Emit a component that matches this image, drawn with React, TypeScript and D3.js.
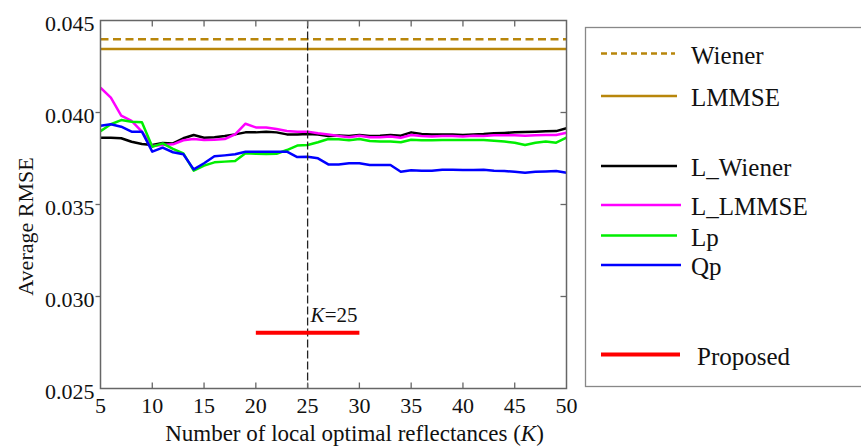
import React, { useEffect, useRef } from "react";
import * as d3 from "d3";

const kValues: number[] = d3.range(5, 51);

const lWiener: number[] = [
  0.03863, 0.03863, 0.0386, 0.03841, 0.03829, 0.03823, 0.03834, 0.03832, 0.0386, 0.03878,
  0.03863, 0.03866, 0.03872, 0.03881, 0.03892, 0.03892, 0.03896, 0.03892, 0.03881, 0.03881,
  0.03883, 0.03881, 0.03872, 0.03875, 0.03872, 0.03878, 0.03872, 0.03874, 0.03878, 0.03874,
  0.03892, 0.03883, 0.03881, 0.03881, 0.03881, 0.03878, 0.03881, 0.03883, 0.03887, 0.03889,
  0.03892, 0.03894, 0.03896, 0.03898, 0.03899, 0.03914,
];

const lLmmse: number[] = [
  0.04135, 0.04081, 0.03983, 0.03954, 0.03896, 0.03818, 0.03823, 0.03827, 0.03849, 0.03856,
  0.03851, 0.03852, 0.03856, 0.03881, 0.03939, 0.03919, 0.03919, 0.0391, 0.03899, 0.03896,
  0.03896, 0.03887, 0.03881, 0.03872, 0.03865, 0.03874, 0.03865, 0.03865, 0.03869, 0.03863,
  0.03878, 0.03872, 0.0387, 0.03872, 0.03872, 0.0387, 0.03874, 0.03872, 0.03876, 0.03876,
  0.03876, 0.03874, 0.03876, 0.03878, 0.03878, 0.0389,
];

const lp: number[] = [
  0.03899, 0.03936, 0.03959, 0.0395, 0.03947, 0.03814, 0.03832, 0.03802, 0.03778, 0.03684,
  0.03711, 0.03729, 0.03733, 0.03736, 0.03778, 0.03776, 0.03775, 0.03776, 0.03796, 0.0382,
  0.03823, 0.03838, 0.03856, 0.03855, 0.03849, 0.03856, 0.03845, 0.03842, 0.03842, 0.03838,
  0.03852, 0.03849, 0.03849, 0.03851, 0.03851, 0.03851, 0.03851, 0.03851, 0.03847, 0.03842,
  0.03836, 0.03823, 0.03836, 0.03842, 0.03836, 0.03863,
];

const qp: number[] = [
  0.03928, 0.03936, 0.03923, 0.03896, 0.03896, 0.03787, 0.03809, 0.03784, 0.03773, 0.03691,
  0.03724, 0.03762, 0.03767, 0.03773, 0.03787, 0.03787, 0.03787, 0.03787, 0.03787, 0.03758,
  0.0376, 0.03751, 0.03718, 0.03718, 0.03724, 0.03724, 0.03715, 0.03715, 0.03715, 0.03678,
  0.03686, 0.03684, 0.03684, 0.03689, 0.03689, 0.03687, 0.03687, 0.03689, 0.03684, 0.03682,
  0.03678, 0.03673, 0.03678, 0.0368, 0.03682, 0.03673,
];

const wienerValue = 0.04398;
const lmmseValue = 0.04345;
const proposedValue = 0.02803;
const proposedRange: number[] = [20, 30];
const markedK = 25;

const xTicks: number[] = [5, 10, 15, 20, 25, 30, 35, 40, 45, 50];
const yTicks: number[] = [0.025, 0.03, 0.035, 0.04, 0.045];

const GOLD = "#b8860b";
const FONT = '"Liberation Serif", "Times New Roman", Times, "DejaVu Serif", serif';

export default function App() {
  const ref = useRef<SVGSVGElement>(null);

  useEffect(() => {
    const svg = d3.select(ref.current);
    svg.selectAll("*").remove();

    const left = 100.5, right = 566.5, top = 20.5, bottom = 388.5;
    const x = d3.scaleLinear().domain([5, 50]).range([left, right]);
    const y = d3.scaleLinear().domain([0.025, 0.045]).range([bottom, top]);

    const g = svg.append("g").style("font-family", FONT);

    svg.append("defs").append("clipPath").attr("id", "plotclip")
      .append("rect").attr("x", left).attr("y", top).attr("width", right - left).attr("height", bottom - top);

    const plot = g.append("g").attr("clip-path", "url(#plotclip)");

    plot.append("line")
      .attr("x1", x(5)).attr("x2", x(50))
      .attr("y1", y(wienerValue)).attr("y2", y(wienerValue))
      .attr("stroke", GOLD).attr("stroke-width", 2.5).attr("stroke-dasharray", "8,4.5");
    plot.append("line")
      .attr("x1", x(5)).attr("x2", x(50))
      .attr("y1", y(lmmseValue)).attr("y2", y(lmmseValue))
      .attr("stroke", GOLD).attr("stroke-width", 2.5);

    const line = d3.line<number>()
      .x((_, i) => x(kValues[i]))
      .y((d) => y(d));

    const series: { data: number[]; color: string }[] = [
      { data: lWiener, color: "#000000" },
      { data: lLmmse, color: "#ff00ff" },
      { data: lp, color: "#00ee00" },
      { data: qp, color: "#0000ff" },
    ];
    series.forEach((s) => {
      plot.append("path")
        .attr("d", line(s.data) as string)
        .attr("fill", "none")
        .attr("stroke", s.color)
        .attr("stroke-width", 2.5)
        .attr("stroke-linejoin", "round");
    });

    plot.append("line")
      .attr("x1", x(markedK)).attr("x2", x(markedK))
      .attr("y1", top).attr("y2", bottom)
      .attr("stroke", "#222").attr("stroke-width", 1.3).attr("stroke-dasharray", "8,3");

    plot.append("line")
      .attr("x1", x(proposedRange[0])).attr("x2", x(proposedRange[1]))
      .attr("y1", y(proposedValue)).attr("y2", y(proposedValue))
      .attr("stroke", "#ff0000").attr("stroke-width", 4);

    const kt = g.append("text")
      .attr("x", x(markedK) + 3).attr("y", y(proposedValue) - 11)
      .style("font-size", "21px").attr("fill", "#111");
    kt.append("tspan").style("font-style", "italic").text("K");
    kt.append("tspan").text("=25");

    const AX = "#666";
    g.append("rect")
      .attr("x", left).attr("y", top).attr("width", right - left).attr("height", bottom - top)
      .attr("fill", "none").attr("stroke", AX).attr("stroke-width", 1.5);

    xTicks.slice(1, -1).forEach((t) => {
      g.append("line").attr("x1", x(t)).attr("x2", x(t)).attr("y1", bottom).attr("y2", bottom - 6)
        .attr("stroke", AX).attr("stroke-width", 1.3);
      g.append("line").attr("x1", x(t)).attr("x2", x(t)).attr("y1", top).attr("y2", top + 6)
        .attr("stroke", AX).attr("stroke-width", 1.3);
    });
    xTicks.forEach((t) => {
      g.append("text").attr("x", x(t)).attr("y", bottom + 24)
        .attr("text-anchor", "middle").style("font-size", "22px")
        .attr("fill", "#111").text(String(t));
    });

    yTicks.slice(1, -1).forEach((t) => {
      g.append("line").attr("x1", left).attr("x2", left - 5).attr("y1", y(t)).attr("y2", y(t))
        .attr("stroke", AX).attr("stroke-width", 1.3);
      g.append("line").attr("x1", right).attr("x2", right - 6).attr("y1", y(t)).attr("y2", y(t))
        .attr("stroke", AX).attr("stroke-width", 1.3);
    });
    yTicks.forEach((t) => {
      g.append("text").attr("x", left - 6).attr("y", y(t) + 10)
        .attr("text-anchor", "end").style("font-size", "22px")
        .attr("fill", "#111").text(d3.format(".3f")(t));
    });

    const xl = g.append("text").attr("x", (left + right) / 2 + 21).attr("y", 441)
      .attr("text-anchor", "middle").style("font-size", "23px").attr("fill", "#111");
    xl.append("tspan").text("Number of local optimal reflectances (");
    xl.append("tspan").style("font-style", "italic").text("K");
    xl.append("tspan").text(")");

    g.append("text")
      .attr("transform", `translate(33, ${(top + bottom) / 2 + 22}) rotate(-90)`)
      .attr("text-anchor", "middle").style("font-size", "22px")
      .attr("fill", "#111").text("Average RMSE");

    const lg = g.append("g");
    lg.append("rect").attr("x", 585.5).attr("y", 27.5).attr("width", 300).attr("height", 359)
      .attr("fill", "white").attr("stroke", "#888").attr("stroke-width", 1.3);

    const legendItems: { label: string; color: string; y: number; dash?: string; w: number; x2: number }[] = [
      { label: "Wiener", color: GOLD, y: 53.5, dash: "6,4", w: 2.5, x2: 675 },
      { label: "LMMSE", color: GOLD, y: 96, w: 2.5, x2: 677 },
      { label: "L_Wiener", color: "#000000", y: 166, w: 2.5, x2: 677 },
      { label: "L_LMMSE", color: "#ff00ff", y: 205, w: 2.5, x2: 681 },
      { label: "Lp", color: "#00ee00", y: 235.5, w: 2.5, x2: 677 },
      { label: "Qp", color: "#0000ff", y: 265, w: 2.5, x2: 681 },
      { label: "Proposed", color: "#ff0000", y: 354.5, w: 4, x2: 680 },
    ];
    legendItems.forEach((it) => {
      lg.append("line").attr("x1", 601).attr("x2", it.x2).attr("y1", it.y).attr("y2", it.y)
        .attr("stroke", it.color).attr("stroke-width", it.w)
        .attr("stroke-dasharray", it.dash ?? null);
      lg.append("text").attr("x", it.label === "Proposed" ? 697 : 691).attr("y", it.y + 10)
        .style("font-size", "25px").attr("fill", "#111").text(it.label);
    });
  }, []);

  return (
    <svg ref={ref} width={861} height={448}
      style={{ position: "absolute", left: 0, top: 0, background: "white" }} />
  );
}
